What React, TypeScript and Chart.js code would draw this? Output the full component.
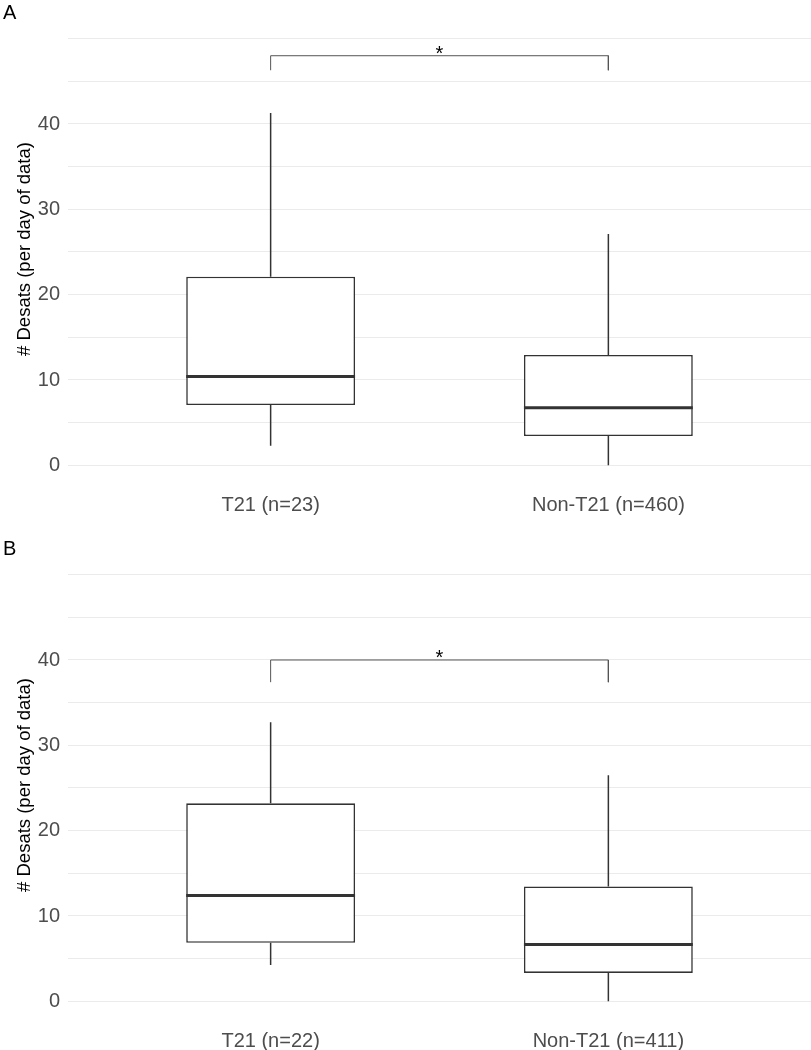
import React, { useEffect, useRef } from "react";
import { Chart, registerables } from "chart.js";

Chart.register(...registerables);

const FONT = '"Liberation Sans", Arial, Helvetica, sans-serif';
Chart.defaults.font.family = FONT;

// ---------- data ----------
const PANEL_LABELS = ["A", "B"];
const GROUP_POS = [1, 2];
const CATEGORIES_A = ["T21 (n=23)", "Non-T21 (n=460)"];
const CATEGORIES_B = ["T21 (n=22)", "Non-T21 (n=411)"];

// panel A five-number summaries (per group)
const LOW_A = [2.3, 0];
const Q1_A = [7.07, 3.43];
const MEDIAN_A = [10.4, 6.75];
const Q3_A = [22.1, 12.93];
const HIGH_A = [41.3, 27.1];
const BRACKET_TOP_A = 48.0;
const BRACKET_TIP_A = 46.3;

// panel B five-number summaries (per group)
const LOW_B = [4.27, 0];
const Q1_B = [6.85, 3.33];
const MEDIAN_B = [12.4, 6.65];
const Q3_B = [23.2, 13.46];
const HIGH_B = [32.7, 26.5];
const BRACKET_TOP_B = 40.0;
const BRACKET_TIP_B = 37.4;

const SIG_LABEL = "*";
const Y_TITLE = "# Desats (per day of data)";
const Y_TICK_LABELS = [0, 10, 20, 30, 40];
const Y_GRID = [0, 5, 10, 15, 20, 25, 30, 35, 40, 45, 50];

// ---------- layout / style constants ----------
const Y_MIN = -2.4;
const Y_MAX = 50.5;
const X_MIN = 0.4;
const X_MAX = 2.6;
const BOX_HALF = 0.25;
const CANVAS_W = 811;
const CANVAS_H = 536;
const PLOT_TOP = 34.4;
const PLOT_BOTTOM = 485.8;
const Y_AXIS_W = 68;
const Y_TITLE_X = 25;
const Y_TITLE_Y = 249;
const LINE_COLOR = "#333333";
const GRID_COLOR = "#EBEBEB";
const TICK_COLOR = "#4D4D4D";

type PanelProps = {
  label: string;
  categories: string[];
  low: number[];
  q1: number[];
  med: number[];
  q3: number[];
  high: number[];
  bracketTop: number;
  bracketTip: number;
  top: number;
};

function Panel(props: PanelProps) {
  const ref = useRef<HTMLCanvasElement | null>(null);

  useEffect(() => {
    const canvas = ref.current;
    if (!canvas) return;
    const { label, categories, low, q1, med, q3, high, bracketTop, bracketTip } = props;

    const boxData = GROUP_POS.map((x, i) => ({ x, y: [q1[i], q3[i]] }));
    const whiskerData: any[] = [];
    GROUP_POS.forEach((x, i) => {
      whiskerData.push(
        { x, y: high[i] },
        { x, y: q3[i] },
        { x, y: null },
        { x, y: q1[i] },
        { x, y: low[i] },
        { x, y: null }
      );
    });
    const medianData: any[] = [];
    GROUP_POS.forEach((x, i) => {
      medianData.push(
        { x: x - BOX_HALF, y: med[i] },
        { x: x + BOX_HALF, y: med[i] },
        { x, y: null }
      );
    });
    const bracketData = [
      { x: GROUP_POS[0], y: bracketTip },
      { x: GROUP_POS[0], y: bracketTop },
      { x: GROUP_POS[1], y: bracketTop },
      { x: GROUP_POS[1], y: bracketTip },
    ];

    const annotate = {
      id: "annotate",
      afterDatasetsDraw(chart: any) {
        const { ctx, scales } = chart;
        const xs = scales.x;
        const ys = scales.y;
        ctx.save();
        ctx.fillStyle = "#000000";
        ctx.textAlign = "left";
        ctx.textBaseline = "alphabetic";
        ctx.font = `20px ${FONT}`;
        ctx.fillText(label, 3, 19);
        // significance star
        ctx.font = `20px ${FONT}`;
        ctx.textAlign = "center";
        ctx.fillText(
          SIG_LABEL,
          xs.getPixelForValue((GROUP_POS[0] + GROUP_POS[1]) / 2),
          ys.getPixelForValue(bracketTop) + 4.1
        );
        // y-axis title
        ctx.save();
        ctx.translate(Y_TITLE_X, Y_TITLE_Y);
        ctx.rotate(-Math.PI / 2);
        ctx.textAlign = "center";
        ctx.textBaseline = "middle";
        ctx.font = `18.5px ${FONT}`;
        ctx.fillText(Y_TITLE, 0, 0);
        ctx.restore();
        ctx.restore();
      },
    };

    const chart = new Chart(canvas, {
      type: "bar",
      data: {
        datasets: [
          {
            type: "line",
            label: "median",
            data: medianData,
            borderColor: LINE_COLOR,
            borderWidth: 3,
            pointRadius: 0,
            spanGaps: false,
            tension: 0,
            order: 0,
          } as any,
          {
            type: "line",
            label: "whiskers",
            data: whiskerData,
            borderColor: LINE_COLOR,
            borderWidth: 1.5,
            pointRadius: 0,
            spanGaps: false,
            tension: 0,
            order: 1,
          } as any,
          {
            type: "line",
            label: "bracket",
            data: bracketData,
            borderColor: "#555555",
            borderWidth: 1,
            pointRadius: 0,
            tension: 0,
            order: 1,
          } as any,
          {
            type: "bar",
            label: "box",
            data: boxData as any,
            backgroundColor: "#FFFFFF",
            borderColor: LINE_COLOR,
            borderWidth: 1.6,
            borderSkipped: false,
            categoryPercentage: 1,
            barPercentage: BOX_HALF * 2,
            order: 2,
          } as any,
        ],
      },
      options: {
        responsive: false,
        animation: false,
        events: [],
        layout: { padding: { top: PLOT_TOP, left: 0, right: 0, bottom: 0 } },
        plugins: {
          legend: { display: false },
          tooltip: { enabled: false },
          title: { display: false },
        },
        scales: {
          x: {
            type: "linear",
            min: X_MIN,
            max: X_MAX,
            offset: false,
            afterBuildTicks: (s: any) => {
              s.ticks = GROUP_POS.map((v) => ({ value: v }));
            },
            afterFit: (s: any) => {
              s.height = CANVAS_H - PLOT_BOTTOM;
            },
            ticks: {
              autoSkip: false,
              maxRotation: 0,
              minRotation: 0,
              padding: 0,
              color: TICK_COLOR,
              font: { family: FONT, size: 20 },
              callback: (v: any) => {
                const idx = GROUP_POS.indexOf(Number(v));
                return idx >= 0 ? categories[idx] : "";
              },
            },
            grid: { display: false },
            border: { display: false },
          },
          y: {
            type: "linear",
            min: Y_MIN,
            max: Y_MAX,
            afterBuildTicks: (s: any) => {
              s.ticks = Y_GRID.map((v) => ({ value: v }));
            },
            afterFit: (s: any) => {
              s.width = Y_AXIS_W;
            },
            ticks: {
              autoSkip: false,
              padding: 8,
              color: TICK_COLOR,
              font: { family: FONT, size: 20 },
              callback: (v: any) => (Y_TICK_LABELS.includes(Number(v)) ? String(v) : ""),
            },
            grid: { color: GRID_COLOR, lineWidth: 1.1, drawTicks: false },
            border: { display: false },
            title: { display: false },
          },
        },
      },
      plugins: [annotate],
    } as any);

    return () => chart.destroy();
  }, []);

  return (
    <canvas
      ref={ref}
      width={CANVAS_W}
      height={CANVAS_H}
      style={{
        position: "absolute",
        left: 0,
        top: props.top,
        width: CANVAS_W,
        height: CANVAS_H,
        display: "block",
      }}
    />
  );
}

export default function App() {
  return (
    <div
      style={{
        position: "absolute",
        left: 0,
        top: 0,
        width: 811,
        height: 1050,
        overflow: "hidden",
        background: "#FFFFFF",
      }}
    >
      <Panel
        label={PANEL_LABELS[0]}
        categories={CATEGORIES_A}
        low={LOW_A}
        q1={Q1_A}
        med={MEDIAN_A}
        q3={Q3_A}
        high={HIGH_A}
        bracketTop={BRACKET_TOP_A}
        bracketTip={BRACKET_TIP_A}
        top={0}
      />
      <Panel
        label={PANEL_LABELS[1]}
        categories={CATEGORIES_B}
        low={LOW_B}
        q1={Q1_B}
        med={MEDIAN_B}
        q3={Q3_B}
        high={HIGH_B}
        bracketTop={BRACKET_TOP_B}
        bracketTip={BRACKET_TIP_B}
        top={536}
      />
    </div>
  );
}
